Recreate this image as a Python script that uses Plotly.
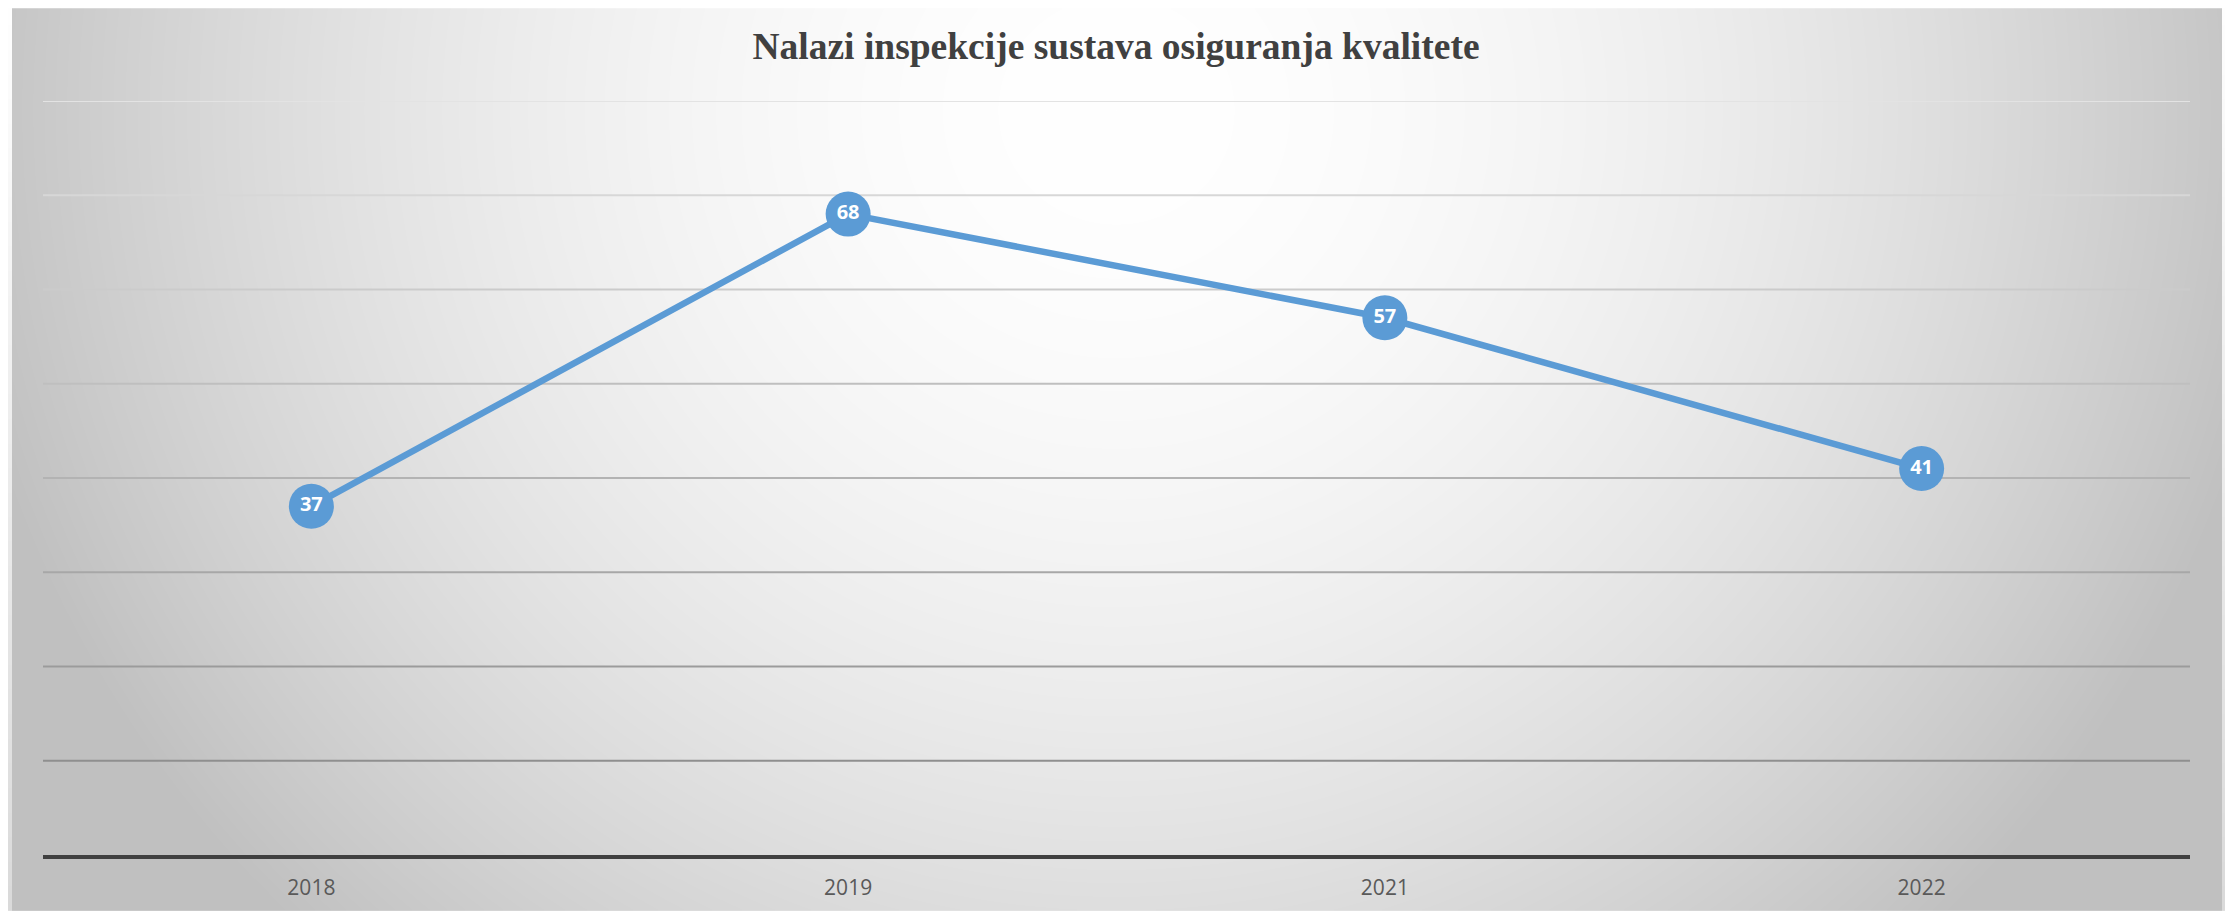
import base64, struct, zlib
import numpy as np
import plotly.graph_objects as go

# ---- data ----
years = ["2018", "2019", "2021", "2022"]
findings = [37, 68, 57, 41]
grid_values = [10, 20, 30, 40, 50, 60, 70, 80]
title_text = "Nalazi inspekcije sustava osiguranja kvalitete"

PAGE_W, PAGE_H = 2233, 913
OFF = 8  # default body margin of the page
W, H = PAGE_W - OFF, PAGE_H - OFF
ML, MR, MT, MB = 43 - OFF, 43, 101 - OFF, 56
PW, PH = W - ML - MR, H - MT - MB

# ---- background gradient image (styling only) ----
def make_bg():
    ys, xs = np.mgrid[0:H, 0:W].astype(float)
    xs += OFF
    ys += OFF
    cx, cy, rx, ry = 1116.0, 110.0, 1180.0, 1150.0
    d = np.sqrt(((xs - cx) / rx) ** 2 + ((ys - cy) / ry) ** 2)
    d = np.clip(d, 0, 1)
    val = 255 - (255 - 192) * d ** 1.8
    outside = 255 - (255 - 218) * (ys / PAGE_H)
    inside = (xs >= 12) & (xs < 2222) & (ys >= 5)
    img = np.where(inside, val, outside)
    top = (ys >= 5) & (ys < 7) & (xs >= 12) & (xs < 2222)
    img = np.where(top, 205, img)
    img = np.clip(img, 0, 255).astype(np.uint8)
    rgb = np.stack([img, img, img], axis=-1)
    raw = b"".join(b"\x00" + rgb[r].tobytes() for r in range(H))
    def chunk(t, data):
        c = struct.pack(">I", len(data)) + t + data
        return c + struct.pack(">I", zlib.crc32(t + data) & 0xFFFFFFFF)
    png = b"\x89PNG\r\n\x1a\n"
    png += chunk(b"IHDR", struct.pack(">IIBBBBB", W, H, 8, 2, 0, 0, 0))
    png += chunk(b"IDAT", zlib.compress(raw, 9))
    png += chunk(b"IEND", b"")
    return "data:image/png;base64," + base64.b64encode(png).decode()

bg = make_bg()

def grid_color(v):
    lo, hi = 143, 227
    c = int(round(lo + (hi - lo) * (v - 10) / 70))
    return f"rgb({c},{c},{c})"

fig = go.Figure()
fig.add_trace(go.Scatter(
    x=years, y=findings,
    mode="lines+markers+text",
    line=dict(color="#5B9BD5", width=6.5),
    marker=dict(size=45, color="#5B9BD5"),
    text=[str(v) for v in findings],
    textposition="middle center",
    textfont=dict(family="Open Sans", size=20, color="white", weight="bold"),
    hoverinfo="x+y",
    cliponaxis=False,
))

shapes = []
for v in grid_values:
    shapes.append(dict(type="line", xref="paper", yref="y", x0=0, x1=1, y0=v, y1=v,
                       line=dict(color=grid_color(v), width=2), layer="below"))

fig.update_layout(
    width=W, height=H,
    margin=dict(l=ML, r=MR, t=MT, b=MB),
    paper_bgcolor="white",
    plot_bgcolor="rgba(0,0,0,0)",
    showlegend=False,
    images=[dict(source=bg, xref="paper", yref="paper",
                 x=-ML / PW, y=1 + MT / PH,
                 sizex=W / PW, sizey=H / PH, xanchor="left", yanchor="top",
                 sizing="stretch", layer="below")],
    shapes=shapes,
    title=dict(text=title_text, x=(1116 - OFF) / W, xanchor="center",
               y=1 - 38 / H, yanchor="middle", yref="container",
               font=dict(family="Liberation Serif", size=37.5, color="#404040", weight="bold")),
    xaxis=dict(type="category", categoryorder="array", categoryarray=years,
               range=[-0.5, 3.5], showgrid=False, zeroline=False,
               showline=True, linecolor="#404040", linewidth=4,
               ticks="", ticklabelstandoff=11,
               tickfont=dict(family="Open Sans", size=21, color="#595959")),
    yaxis=dict(range=[0, 80], showgrid=False, zeroline=False, showline=False,
               showticklabels=False, ticks=""),
)

fig.write_html("out.html", config={"displayModeBar": False})
